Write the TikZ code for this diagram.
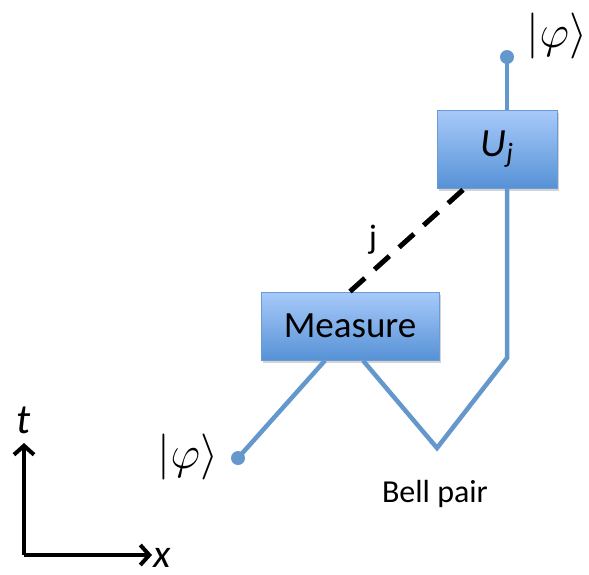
\documentclass[tikz,border=0pt]{standalone}
\usepackage{fix-cm}
\usepackage{amsmath,amssymb}
\usepackage{fontspec}
\setmainfont{Carlito}
\usetikzlibrary{arrows.meta, positioning, calc, shadows}
\definecolor{wireblue}{RGB}{100,152,205}
\definecolor{boxtop}{RGB}{168,202,250}
\definecolor{boxbot}{RGB}{86,146,214}
\definecolor{boxedge}{RGB}{105,155,215}

\begin{document}
\begin{tikzpicture}[
    x=1pt, y=-1pt,
    wire/.style={line width=4.5pt, draw=wireblue, line join=miter},
    dot/.style={circle, fill=wireblue, inner sep=0, minimum size=14pt},
    gate/.style={draw=boxedge, line width=1pt, top color=boxtop, bottom color=boxbot,
                 drop shadow={shadow xshift=2pt, shadow yshift=-3pt, opacity=0.35},
                 inner sep=0},
    classical/.style={line width=5pt, dash pattern=on 20pt off 13pt},
    axis/.style={line width=4pt, -{Straight Barb[length=9pt, width=20pt, line width=4pt]}},
    ket/.style={font=\fontsize{46}{50}\selectfont, inner sep=0},
]
    \useasboundingbox (0,0) rectangle (589,574);

    % Gates
    \node[gate, minimum width=178pt, minimum height=68pt, font=\fontsize{37}{40}\selectfont] (meas) at (350,326) {Measure};
    \node[gate, minimum width=120pt, minimum height=78pt, font=\fontsize{40}{44}\selectfont] (uj) at (497,149) {\textit{U}\raisebox{-0.35ex}{\fontsize{28}{30}\selectfont\textit{j}}};

    % Input and output states
    \node[dot] (din) at (238,458) {};
    \node[dot] (dout) at (507,57) {};
    \node[ket] (kin) at (188,457) {$|\varphi\rangle$};
    \node[ket] (kout) at (557,36) {$|\varphi\rangle$};

    % Bell pair
    \coordinate (bell) at (437,448);
    \coordinate (bend) at (507,358);
    \node[font=\fontsize{32}{36}\selectfont] (belltxt) at (435,494) {Bell pair};

    % Wires
    \draw[wire] (din.center) -- ($(meas.south)+(-25,0)$);
    \draw[wire] ($(meas.south)+(13,0)$) -- (bell) -- (bend) -- (bend |- uj.south);
    \draw[wire] (dout.center) -- (dout |- uj.north);

    % Classical outcome
    \draw[classical] (meas.north) -- ($(uj.south west)+(28,0)$);
    \node[font=\fontsize{34}{38}\selectfont] (jlab) at (373,240) {j};

    % Axes
    \coordinate (o) at (24,555);
    \draw[axis] (o) -- (24,443) node[above=4pt, font=\fontsize{42}{46}\selectfont\itshape] (tlab) {t};
    \draw[axis] (o) -- (152,555);
    \node[anchor=base west, inner sep=0, font=\fontsize{40}{44}\selectfont\itshape] (xlab) at (153,567) {x};

\end{tikzpicture}
\end{document}
